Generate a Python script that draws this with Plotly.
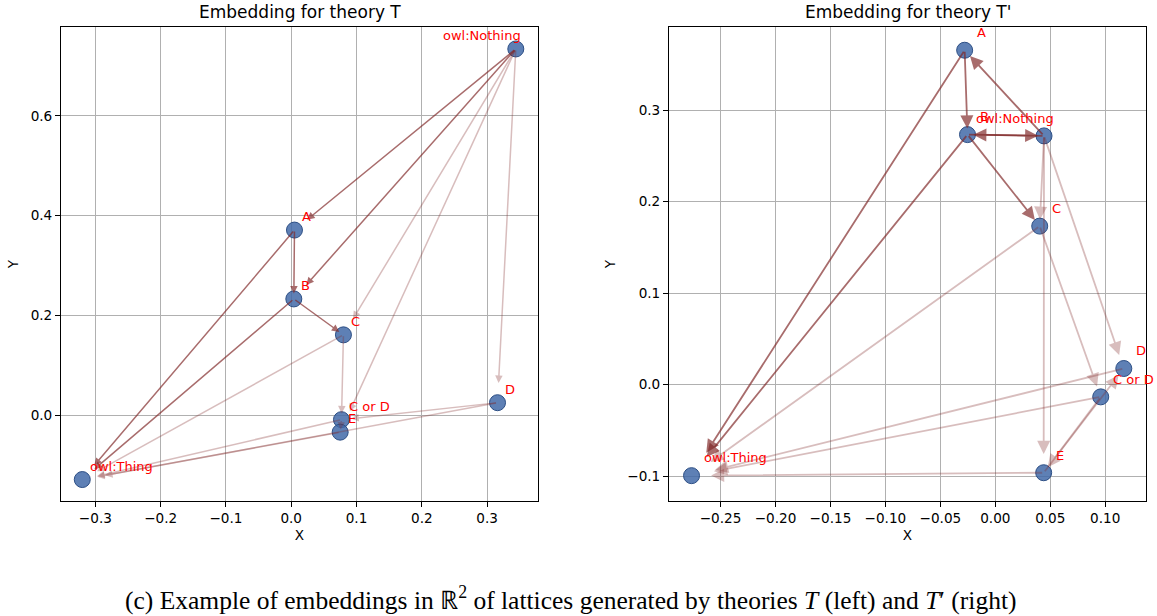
import plotly.graph_objects as go

# ---------------- data ----------------
title_left = "Embedding for theory T"
title_right = "Embedding for theory T'"
caption = ("(c) Example of embeddings in ℝ<sup>2</sup> of lattices generated by theories "
           "<i>T</i> (left) and <i>T</i>′ (right)")

left_nodes = ["owl:Nothing", "A", "B", "C", "D", "C or D", "E", "owl:Thing"]
left_x = [0.344, 0.005, 0.004, 0.080, 0.316, 0.077, 0.075, -0.320]
left_y = [0.734, 0.371, 0.233, 0.161, 0.025, -0.009, -0.034, -0.129]
left_strong_edges = [("owl:Nothing", "A"), ("owl:Nothing", "B"), ("A", "B"), ("B", "C"),
                     ("A", "owl:Thing"), ("B", "owl:Thing")]
left_weak_edges = [("owl:Nothing", "C"), ("owl:Nothing", "E"), ("owl:Nothing", "D"),
                   ("C", "C or D"), ("C", "owl:Thing"), ("D", "C or D"), ("D", "owl:Thing"),
                   ("C or D", "E"), ("C or D", "owl:Thing"), ("E", "owl:Thing")]

right_nodes = ["owl:Nothing", "A", "B", "C", "D", "C or D", "E", "owl:Thing"]
right_x = [0.0443, -0.0279, -0.0253, 0.0404, 0.1169, 0.0959, 0.0440, -0.2764]
right_y = [0.2717, 0.3653, 0.2731, 0.1731, 0.0175, -0.0135, -0.0964, -0.0996]
right_strong_edges = [("owl:Nothing", "A"), ("A", "B"), ("owl:Nothing", "B"), ("B", "owl:Nothing"),
                      ("B", "C"), ("A", "owl:Thing"), ("B", "owl:Thing")]
right_weak_edges = [("owl:Nothing", "C"), ("owl:Nothing", "E"), ("owl:Nothing", "D"),
                    ("C", "C or D"), ("C", "owl:Thing"), ("D", "owl:Thing"),
                    ("C or D", "owl:Thing"), ("C or D", "E"), ("E", "D"), ("E", "owl:Thing")]

left_xticks = [-0.3, -0.2, -0.1, 0.0, 0.1, 0.2, 0.3]
left_yticks = [0.0, 0.2, 0.4, 0.6]
right_xticks = [-0.25, -0.20, -0.15, -0.10, -0.05, 0.00, 0.05, 0.10]
right_yticks = [-0.1, 0.0, 0.1, 0.2, 0.3]

# ---------------- style ----------------
FONT = "DejaVu Sans"
STRONG = "rgba(128,40,40,0.68)"
WEAK = "rgba(128,40,40,0.30)"
SHRINK = 0.95
LABEL_OFF = 0.01

fig = go.Figure()

def add_panel(nodes, xs, ys, strong, weak, xref, yref, head_size, line_w):
    fig.add_trace(go.Scatter(
        x=xs, y=ys, mode="markers", xaxis=xref, yaxis=yref,
        marker=dict(size=16, color="rgba(66,106,168,0.85)",
                    line=dict(color="#2d4f85", width=1)),
        hoverinfo="skip", showlegend=False))
    pos = {n: (x, y) for n, x, y in zip(nodes, xs, ys)}
    for edges, col in ((weak, WEAK), (strong, STRONG)):
        for s, t in edges:
            x0, y0 = pos[s]
            x1, y1 = pos[t]
            fig.add_annotation(
                x=x0 + SHRINK * (x1 - x0), y=y0 + SHRINK * (y1 - y0),
                ax=x0, ay=y0, xref=xref, yref=yref, axref=xref, ayref=yref,
                showarrow=True, arrowhead=2, arrowsize=head_size, arrowwidth=line_w,
                arrowcolor=col, text="", standoff=2)
    for n, x, y in zip(nodes, xs, ys):
        fig.add_annotation(
            x=x + LABEL_OFF, y=y + LABEL_OFF, xref=xref, yref=yref, text=n,
            showarrow=False, xanchor="right" if n == "owl:Nothing" else "left",
            yanchor="bottom", font=dict(family=FONT, size=13, color="red"),
            borderpad=0)

add_panel(left_nodes, left_x, left_y, left_strong_edges, left_weak_edges, "x", "y", 1.0, 1.5)
add_panel(right_nodes, right_x, right_y, right_strong_edges, right_weak_edges, "x2", "y2", 1.45, 1.8)

W, H = 1157, 616
ydom = [1 - 501 / H, 1 - 27 / H]
TICKSZ = 13.6
title_font = dict(family=FONT, size=TICKSZ, color="black")
axis_common = dict(showgrid=True, gridcolor="#b0b0b0", gridwidth=0.8, zeroline=False,
                   showline=True, mirror=True, linecolor="black", linewidth=1,
                   ticks="outside", ticklen=5, tickcolor="black", tickwidth=1,
                   tickfont=dict(family=FONT, size=TICKSZ, color="black"), automargin=False)

fig.update_layout(
    width=W, height=H, margin=dict(l=0, r=0, t=0, b=0),
    paper_bgcolor="white", plot_bgcolor="white",
    xaxis=dict(domain=[61 / W, 538 / W], range=[-0.3526, 0.378], tickvals=left_xticks,
               tickformat=".1f", anchor="y",
               title=dict(text="X", font=title_font, standoff=5), **axis_common),
    yaxis=dict(domain=ydom, range=[-0.172, 0.778], tickvals=left_yticks, tickformat=".1f",
               anchor="x",
               title=dict(text="Y", font=title_font, standoff=8), **axis_common),
    xaxis2=dict(domain=[669 / W, 1146 / W], range=[-0.2969, 0.1371], tickvals=right_xticks,
                tickformat=".2f", anchor="y2",
                title=dict(text="X", font=title_font, standoff=5), **axis_common),
    yaxis2=dict(domain=ydom, range=[-0.1273, 0.3907], tickvals=right_yticks, tickformat=".1f",
                anchor="x2",
                title=dict(text="Y", font=title_font, standoff=8), **axis_common),
)

fig.add_annotation(x=(61 + 538) / 2 / W, y=1 - 12 / H, xref="paper", yref="paper",
                   text=title_left, showarrow=False, xanchor="center", yanchor="middle",
                   font=dict(family=FONT, size=17, color="black"))
fig.add_annotation(x=(669 + 1146) / 2 / W, y=1 - 12 / H, xref="paper", yref="paper",
                   text=title_right, showarrow=False, xanchor="center", yanchor="middle",
                   font=dict(family=FONT, size=17, color="black"))
fig.add_annotation(x=570 / W, y=1 - 598 / H, xref="paper", yref="paper",
                   text=caption, showarrow=False, xanchor="center", yanchor="middle",
                   font=dict(family="Liberation Serif", size=25.5, color="black"))

fig.write_html("out.html", config={"displayModeBar": False},
               post_script="document.body.style.margin='0';document.body.style.overflow='hidden';")
